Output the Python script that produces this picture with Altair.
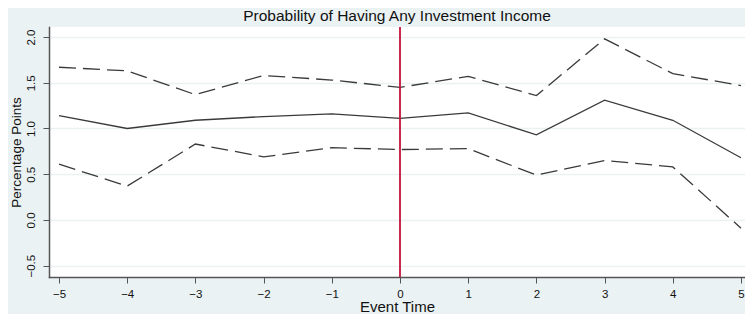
import altair as alt
import pandas as pd

event_time = [-5, -4, -3, -2, -1, 0, 1, 2, 3, 4, 5]
estimate = [1.14, 1.00, 1.09, 1.13, 1.16, 1.11, 1.17, 0.93, 1.31, 1.09, 0.68]
upper = [1.67, 1.63, 1.37, 1.58, 1.53, 1.45, 1.57, 1.36, 1.98, 1.60, 1.47]
lower = [0.61, 0.37, 0.83, 0.69, 0.79, 0.77, 0.78, 0.49, 0.65, 0.58, -0.09]
event_line = [0]
y_ticks = [-0.5, 0.0, 0.5, 1.0, 1.5, 2.0]
x_ticks = event_time

df = pd.DataFrame({"t": event_time, "est": estimate, "hi": upper, "lo": lower})
long = df.melt("t", value_vars=["hi", "lo"], var_name="band", value_name="v")

FONT = "Liberation Sans"
BG = "#EAF2F3"

xs = alt.Scale(domain=[-5.147, 5.059], nice=False, zero=False)
ys = alt.Scale(domain=[-0.624, 2.11], nice=False, zero=False)

x_axis = alt.Axis(values=x_ticks, format="d", title="Event Time", grid=False, domainColor="#555555",
                  tickColor="#555555", tickSize=6, labelFontSize=11.5, labelFont=FONT,
                  labelColor="#111111", labelPadding=5, titleFont=FONT, titleFontSize=15,
                  titleFontWeight="normal", titleColor="#111111", titlePadding=0,
                  domainWidth=1.5, labelFlush=False)
y_axis = alt.Axis(values=y_ticks, title="Percentage Points", format=".1f", grid=True,
                  gridColor=BG, gridWidth=1.5, domainColor="#555555", tickColor="#555555",
                  tickSize=6, labelAngle=-90, labelAlign="center", labelBaseline="bottom",
                  labelFontSize=11.5, labelFont=FONT, labelColor="#111111", labelPadding=7,
                  titleFont=FONT, titleFontSize=13.5, titleFontWeight="normal",
                  titleColor="#111111", titlePadding=2, domainWidth=1.5, labelFlush=False)

base = alt.Chart(df)

est_line = base.mark_line(color="#3a3a3a", strokeWidth=1.3).encode(
    x=alt.X("t:Q", scale=xs, axis=x_axis),
    y=alt.Y("est:Q", scale=ys, axis=y_axis),
)

band_lines = alt.Chart(long).mark_line(color="#3a3a3a", strokeWidth=1.3, strokeDash=[17, 7]).encode(
    x=alt.X("t:Q", scale=xs),
    y=alt.Y("v:Q", scale=ys),
    detail="band:N",
)

vline = alt.Chart(pd.DataFrame({"t": event_line})).mark_rule(color="#C4123A", strokeWidth=1.8).encode(
    x=alt.X("t:Q", scale=xs),
)

chart = alt.layer(est_line, band_lines, vline).properties(
    width=696,
    height=250,
    title=alt.TitleParams("Probability of Having Any Investment Income", font=FONT,
                          fontSize=15.5, fontWeight="normal", color="#111111", anchor="middle",
                          offset=2),
    background=BG,
    padding={"left": 41, "top": 19, "right": 0, "bottom": 37},
    autosize=alt.AutoSizeParams(type="none"),
).configure_view(fill="white", stroke=None).configure_axis(domainCap="square")

chart.save("out.html", embed_options={"renderer": "svg", "actions": False})
